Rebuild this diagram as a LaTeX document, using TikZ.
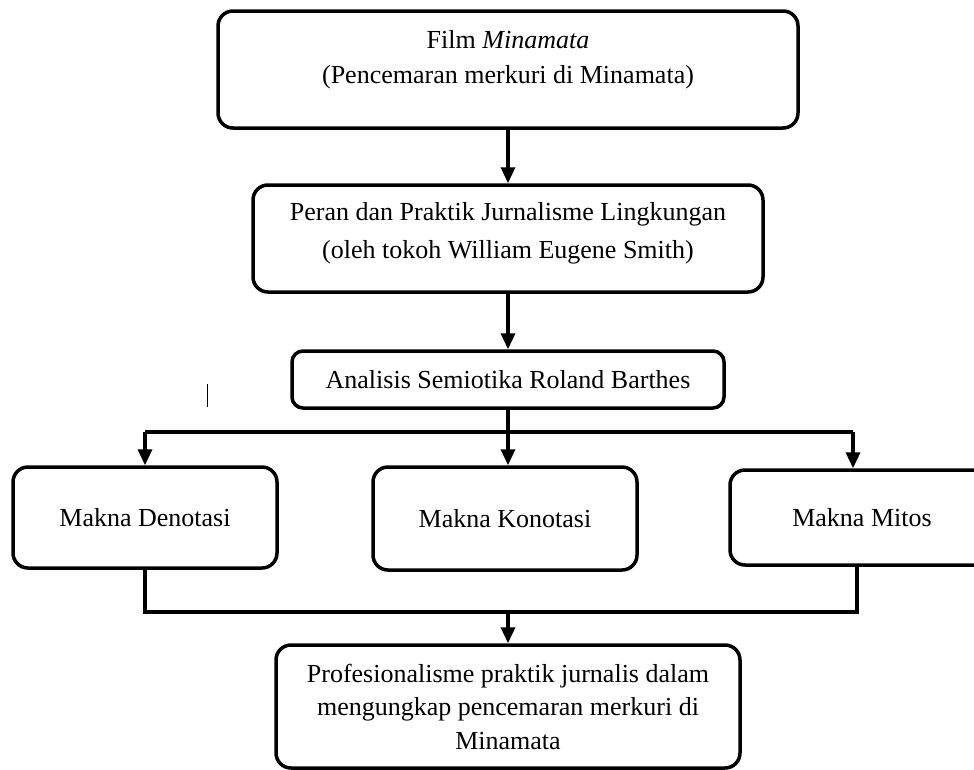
\documentclass[tikz,border=0pt]{standalone}
\usepackage{fontspec}
\setmainfont{Liberation Serif}
\usetikzlibrary{arrows.meta}

\begin{document}
\begin{tikzpicture}[x=1pt,y=-1pt,
    kotak/.style={draw,line width=3.5pt,rounded corners=15pt,align=center,inner sep=0pt,
      font=\fontsize{26}{35}\selectfont},
    panah/.style={line width=3.5pt,-{Triangle[width=14pt,length=16pt]}},
    garis/.style={line width=3.5pt}]
  \useasboundingbox (0,0) rectangle (974,769);
  \clip (0,0) rectangle (974,769);
  \node[kotak,minimum width=580pt,minimum height=117pt] (film) at (508,69.5)
    {Film \textit{Minamata}\\(Pencemaran merkuri di Minamata)\\[-10pt]~};
  \node[kotak,minimum width=510pt,minimum height=107pt] (peran) at (508,238.5)
    {Peran dan Praktik Jurnalisme Lingkungan\\[3pt](oleh tokoh William Eugene Smith)\\[-19pt]~};
  \node[kotak,rounded corners=11pt,minimum width=432pt,minimum height=57pt] (analisis) at (508,379.5)
    {Analisis Semiotika Roland Barthes};
  \node[kotak,minimum width=264pt,minimum height=101pt] (denotasi) at (145,517.5) {Makna Denotasi};
  \node[kotak,minimum width=264pt,minimum height=103pt] (konotasi) at (505,518.5) {Makna Konotasi};
  \node[kotak,minimum width=264pt,minimum height=95pt] (mitos) at (862,517.5) {Makna Mitos};
  \node[kotak,minimum width=464pt,minimum height=123pt,font=\fontsize{26}{33.5}\selectfont] (profesi) at (508,706.5)
    {Profesionalisme praktik jurnalis dalam\\mengungkap pencemaran merkuri di\\Minamata};
  \coordinate (cabang) at (508,432);
  \coordinate (gabung) at (508,612);
  \coordinate (mitosatas) at ([xshift=-9pt]mitos.north);
  \coordinate (mitosbawah) at ([xshift=-5pt]mitos.south);

  \draw[panah] (film.south) -- (peran.north);
  \draw[panah] (peran.south) -- (analisis.north);
  \draw[panah] (analisis.south) -- (analisis.south |- konotasi.north);
  \draw[garis] (cabang -| denotasi.north) -- (cabang -| mitosatas);
  \draw[panah] (cabang -| denotasi.north) -- (denotasi.north);
  \draw[panah] (cabang -| mitosatas) -- (mitosatas);
  \draw[garis] (denotasi.south) |- (gabung -| mitosbawah) -- (mitosbawah);
  \draw[panah] (gabung) -- (gabung |- profesi.north);
  \draw[line width=1pt] (207,384) -- (207,407);
\end{tikzpicture}
\end{document}
